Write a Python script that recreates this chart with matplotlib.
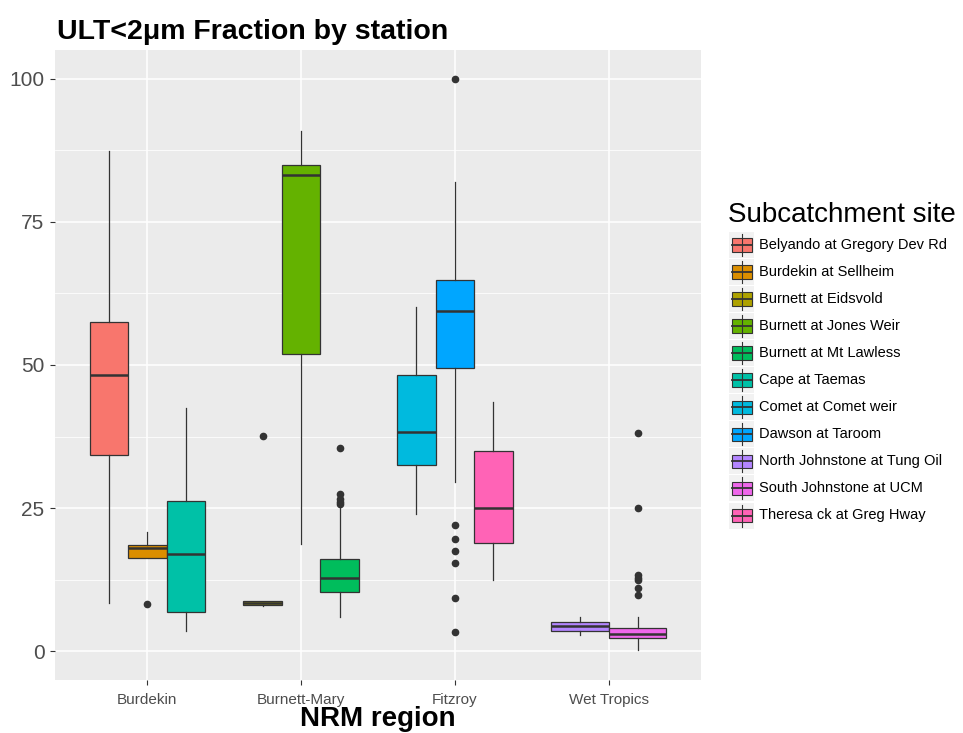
import numpy as np
import matplotlib.pyplot as plt
from matplotlib.patches import Rectangle

plt.rcParams['font.family'] = ['Liberation Sans', 'DejaVu Sans']

regions = ['Burdekin', 'Burnett-Mary', 'Fitzroy', 'Wet Tropics']
sites = ['Belyando at Gregory Dev Rd', 'Burdekin at Sellheim', 'Burnett at Eidsvold',
         'Burnett at Jones Weir', 'Burnett at Mt Lawless', 'Cape at Taemas',
         'Comet at Comet weir', 'Dawson at Taroom', 'North Johnstone at Tung Oil',
         'South Johnstone at UCM', 'Theresa ck at Greg Hway']
site_region = ['Burdekin', 'Burdekin', 'Burnett-Mary', 'Burnett-Mary', 'Burnett-Mary',
               'Burdekin', 'Fitzroy', 'Fitzroy', 'Wet Tropics', 'Wet Tropics', 'Fitzroy']
colors = ['#F8766D', '#DB8E00', '#AEA200', '#64B200', '#00BD5C', '#00C1A7',
          '#00BADE', '#00A6FF', '#B385FF', '#EF67EB', '#FF63B6']

# box statistics
whislo = [8.4, 16.3, 7.9, 18.7, 6.0, 3.5, 24.0, 29.5, 2.9, 0.2, 12.5]
q1 = [34.3, 16.3, 8.1, 51.9, 10.3, 6.8, 32.5, 49.4, 3.55, 2.3, 19.0]
med = [48.3, 18.0, 8.5, 83.1, 12.8, 17.0, 38.3, 59.4, 4.5, 3.0, 25.0]
q3 = [57.5, 18.5, 8.8, 85.0, 16.2, 26.3, 48.2, 64.9, 5.1, 4.1, 35.0]
whishi = [87.3, 20.8, 8.8, 90.9, 25.0, 42.5, 60.2, 82.0, 6.05, 6.05, 43.5]
fliers = [[], [8.3], [37.6], [], [35.5, 27.5, 26.6, 26.0, 25.7], [], [],
          [100.0, 22.0, 19.6, 17.6, 15.5, 9.3, 3.4], [],
          [38.2, 25.0, 13.3, 12.8, 12.4, 11.0, 9.9], []]

fig = plt.figure(figsize=(9.63, 7.33), dpi=100)
W, H = 963, 733
ax = fig.add_axes([55 / W, 1 - 680 / H, 646 / W, 630 / H])
ax.set_facecolor('#EBEBEB')
for s in ax.spines.values():
    s.set_visible(False)

# dodge positions like ggplot (total width 0.75 split among groups at each x)
positions, widths = [], []
for i, r in enumerate(site_region):
    members = [j for j, rr in enumerate(site_region) if rr == r]
    n = len(members)
    k = members.index(i)
    w = 0.75 / n
    positions.append(regions.index(r) + 1 + (k - (n - 1) / 2) * w)
    widths.append(w)

stats = []
for i in range(len(sites)):
    stats.append(dict(med=med[i], q1=q1[i], q3=q3[i], whislo=whislo[i],
                      whishi=whishi[i], fliers=fliers[i]))

bp = ax.bxp(stats, positions=positions, widths=widths, patch_artist=True,
            showcaps=False,
            boxprops=dict(edgecolor='#333333', linewidth=0.9),
            medianprops=dict(color='#333333', linewidth=1.8),
            whiskerprops=dict(color='#333333', linewidth=0.9),
            flierprops=dict(marker='o', markerfacecolor='#333333',
                            markeredgecolor='#333333', markersize=4.5))
for patch, c in zip(bp['boxes'], colors):
    patch.set_facecolor(c)

ax.set_xlim(0.4, 4.6)
ax.set_ylim(-5, 105)
ax.set_xticks(range(1, len(regions) + 1))
ax.set_xticklabels(regions)
ax.set_yticks([0, 25, 50, 75, 100])
ax.set_yticks([12.5, 37.5, 62.5, 87.5], minor=True)
ax.grid(which='major', color='white', linewidth=1.1)
ax.grid(which='minor', axis='y', color='white', linewidth=0.55)
ax.set_axisbelow(True)
ax.tick_params(axis='y', which='minor', length=0)
ax.tick_params(axis='y', which='major', length=3.5, width=0.8, color='#333333',
               labelcolor='#4D4D4D', labelsize=15, pad=4)
ax.tick_params(axis='x', which='major', length=3.5, width=0.8, color='#333333',
               labelcolor='#4D4D4D', labelsize=11, pad=6)

fig.text(57 / W, 1 - 39 / H, 'ULT<2μm Fraction by station', fontsize=20.5,
         fontweight='bold', va='baseline', ha='left')
fig.text(378 / W, 1 - 726 / H, 'NRM region', fontsize=20, fontweight='bold',
         va='baseline', ha='center')

# legend drawn in pixel coordinates
lax = fig.add_axes([0, 0, 1, 1])
lax.set_xlim(0, W)
lax.set_ylim(H, 0)
lax.axis('off')
lax.patch.set_alpha(0)
lax.text(728, 215, 'Subcatchment site', fontsize=20, va='center', ha='left')
for i, (name, c) in enumerate(zip(sites, colors)):
    cy = 245 + 27.05 * i
    lax.add_patch(Rectangle((729, cy - 13), 25, 26, facecolor='#F2F2F2', edgecolor='none'))
    lax.plot([741.5, 741.5], [cy - 11, cy + 11], color='#333333', lw=0.8)
    lax.add_patch(Rectangle((732, cy - 6.8), 20, 13.6, facecolor=c,
                            edgecolor='#333333', lw=0.8))
    lax.plot([732, 752], [cy, cy], color='#333333', lw=1.3)
    lax.text(759, cy, name, fontsize=10.5, va='center', ha='left', color='black')

fig.savefig('out.png', dpi=100)
